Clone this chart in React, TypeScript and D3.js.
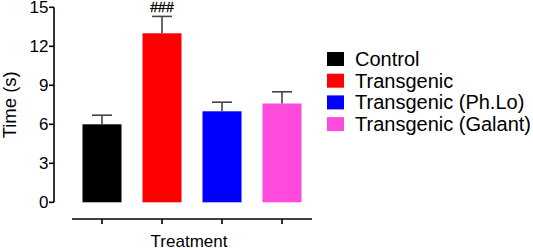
import React from "react";
import * as d3 from "d3";

const categories = ["Control", "Transgenic", "Transgenic (Ph.Lo)", "Transgenic (Galant)"];
const means = [6.0, 13.0, 7.0, 7.6];
const errors = [0.7, 1.3, 0.7, 0.9];
const colors = ["#000000", "#ff0000", "#0000ff", "#ff4bdc"];
const yTicks = [0, 3, 6, 9, 12, 15];
const annotations = ["", "###", "", ""];

const W = 533;
const H = 249;
const FONT = "Arial, 'Liberation Sans', Helvetica, sans-serif";

export default function App() {
  const y = d3.scaleLinear().domain([0, 15]).range([202.3, 7.3]);
  const x = d3
    .scaleBand<string>()
    .domain(categories)
    .range([72, 312])
    .paddingInner(0.35)
    .paddingOuter(0.175);
  const axisX = 54;
  const axisY = 219;
  const bw = x.bandwidth();
  const capW = 20;

  return (
    <svg
      width={W}
      height={H}
      style={{ position: "absolute", left: 0, top: 0, background: "#fff" }}
      fontFamily={FONT}
    >
      {/* bars */}
      {categories.map((c, i) => (
        <rect
          key={c}
          x={x(c)!}
          y={y(means[i])}
          width={bw}
          height={y(0) - y(means[i])}
          fill={colors[i]}
        />
      ))}
      {/* error bars */}
      {categories.map((c, i) => {
        const cx = x(c)! + bw / 2;
        return (
          <g key={"e" + c} stroke="#444" strokeWidth={1.6}>
            <line x1={cx} x2={cx} y1={y(means[i])} y2={y(means[i] + errors[i])} />
            <line x1={cx - capW / 2} x2={cx + capW / 2} y1={y(means[i] + errors[i])} y2={y(means[i] + errors[i])} />
          </g>
        );
      })}
      {/* annotations */}
      {categories.map((c, i) =>
        annotations[i] ? (
          <text
            key={"a" + c}
            x={x(c)! + bw / 2}
            y={12}
            textAnchor="middle"
            fontSize={14}
            fill="#000"
            stroke="#000"
            strokeWidth={0.3}
          >
            {annotations[i]}
          </text>
        ) : null
      )}
      {/* y axis */}
      <line x1={axisX} x2={axisX} y1={y(15)} y2={y(0)} stroke="#000" strokeWidth={1.6} />
      {yTicks.map((t) => (
        <g key={"t" + t}>
          <line x1={axisX - 5} x2={axisX} y1={y(t)} y2={y(t)} stroke="#000" strokeWidth={1.6} />
          <text x={axisX - 5.5} y={y(t)} dy="0.36em" textAnchor="end" fontSize={17} fill="#000">
            {t}
          </text>
        </g>
      ))}
      <text
        transform={`translate(15.5,${(y(0) + y(15)) / 2}) rotate(-90)`}
        textAnchor="middle"
        fontSize={18.5}
        fill="#000"
      >
        Time (s)
      </text>
      {/* x axis */}
      <line x1={72} x2={312} y1={axisY} y2={axisY} stroke="#000" strokeWidth={1.6} />
      {categories.map((c) => (
        <line
          key={"xt" + c}
          x1={x(c)! + bw / 2}
          x2={x(c)! + bw / 2}
          y1={axisY}
          y2={axisY + 5}
          stroke="#000"
          strokeWidth={1.6}
        />
      ))}
      <text x={189} y={246.5} textAnchor="middle" fontSize={17} fill="#000">
        Treatment
      </text>
      {/* legend */}
      {categories.map((c, i) => (
        <g key={"l" + c} transform={`translate(327,${52 + i * 21.7})`}>
          <rect x={0} y={0} width={17} height={14} fill={colors[i]} />
          <text x={28} y={14} fontSize={20} fill="#000">
            {c}
          </text>
        </g>
      ))}
    </svg>
  );
}
